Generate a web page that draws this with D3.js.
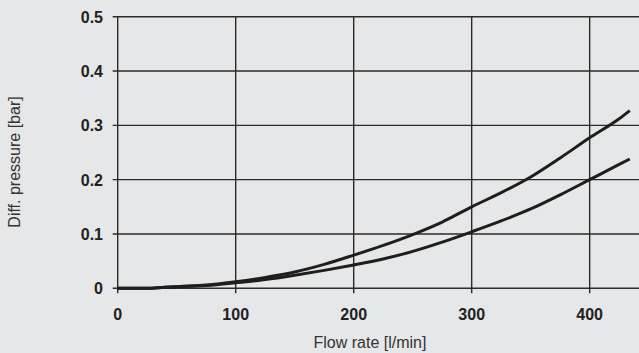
<!DOCTYPE html>
<html>
<head>
<meta charset="utf-8">
<script src="https://cdn.jsdelivr.net/npm/d3@7"></script>
<style>
  body { margin: 0; background: #e6e7e8; }
  svg { display: block; font-family: "Liberation Sans", Arial, sans-serif; }
</style>
</head>
<body>
<svg id="chart"></svg>
<script>
// data
var flow = [0, 25, 40, 50, 75, 100, 125, 150, 175, 200, 225, 250, 275, 300, 325, 350, 375, 400, 425, 434];
var upper = [0, 0, 0.002, 0.003, 0.006, 0.012, 0.020, 0.030, 0.044, 0.061, 0.079, 0.099, 0.122, 0.150, 0.176, 0.205, 0.240, 0.277, 0.312, 0.327];
var lower = [0, 0, 0.002, 0.003, 0.005, 0.010, 0.016, 0.024, 0.033, 0.043, 0.054, 0.068, 0.085, 0.104, 0.124, 0.146, 0.172, 0.200, 0.228, 0.238];
var xTicks = [0, 100, 200, 300, 400];
var yTicks = [0, 0.1, 0.2, 0.3, 0.4, 0.5];
var yLabels = ["0", "0.1", "0.2", "0.3", "0.4", "0.5"];

function init(){
    var width = 639, height = 353;
    var svg = d3.select("#chart")
        .attr("width", width)
        .attr("height", height);

    //scales
    var x = d3.scaleLinear().domain([0, 441.8]).range([117.7, 639]);
    var y = d3.scaleLinear().domain([0, 0.5]).range([288.3, 16.7]);

    var grid = "#2b2b2b";

    //horizontal grid + y ticks
    svg.append("g")
        .selectAll("line")
        .data(yTicks)
        .enter()
        .append("line")
        .attr("x1", x(0) - 5)
        .attr("x2", width)
        .attr("y1", function(d) { return y(d); })
        .attr("y2", function(d) { return y(d); })
        .attr("stroke", grid)
        .attr("stroke-width", 1.4);

    //vertical grid + x ticks
    svg.append("g")
        .selectAll("line")
        .data(xTicks)
        .enter()
        .append("line")
        .attr("x1", function(d) { return x(d); })
        .attr("x2", function(d) { return x(d); })
        .attr("y1", y(0.5))
        .attr("y2", y(0) + 5)
        .attr("stroke", grid)
        .attr("stroke-width", 1.4);

    //tick labels
    svg.append("g")
        .selectAll("text")
        .data(yTicks)
        .enter()
        .append("text")
        .attr("x", 103)
        .attr("y", function(d) { return y(d) + 6; })
        .attr("text-anchor", "end")
        .attr("font-size", 16)
        .attr("font-weight", "bold")
        .attr("fill", "#222")
        .text(function(d, i) { return yLabels[i]; });

    svg.append("g")
        .selectAll("text")
        .data(xTicks)
        .enter()
        .append("text")
        .attr("x", function(d) { return x(d); })
        .attr("y", 320)
        .attr("text-anchor", "middle")
        .attr("font-size", 16)
        .attr("font-weight", "bold")
        .attr("fill", "#222")
        .text(function(d) { return d; });

    //curves
    var line = d3.line()
        .x(function(d, i) { return x(flow[i]); })
        .y(function(d) { return y(d); })
        .curve(d3.curveMonotoneX);

    [upper, lower].forEach(function(s) {
        svg.append("path")
            .attr("d", line(s))
            .attr("fill", "none")
            .attr("stroke", "#1e1e1e")
            .attr("stroke-width", 3);
    });

    //axis titles
    svg.append("text")
        .attr("x", 370)
        .attr("y", 348)
        .attr("text-anchor", "middle")
        .attr("font-size", 16)
        .attr("fill", "#333")
        .text("Flow rate [l/min]");

    svg.append("text")
        .attr("transform", "translate(20,162) rotate(-90)")
        .attr("text-anchor", "middle")
        .attr("font-size", 16)
        .attr("fill", "#333")
        .text("Diff. pressure [bar]");
}
window.onload = init
</script>
</body>
</html>
